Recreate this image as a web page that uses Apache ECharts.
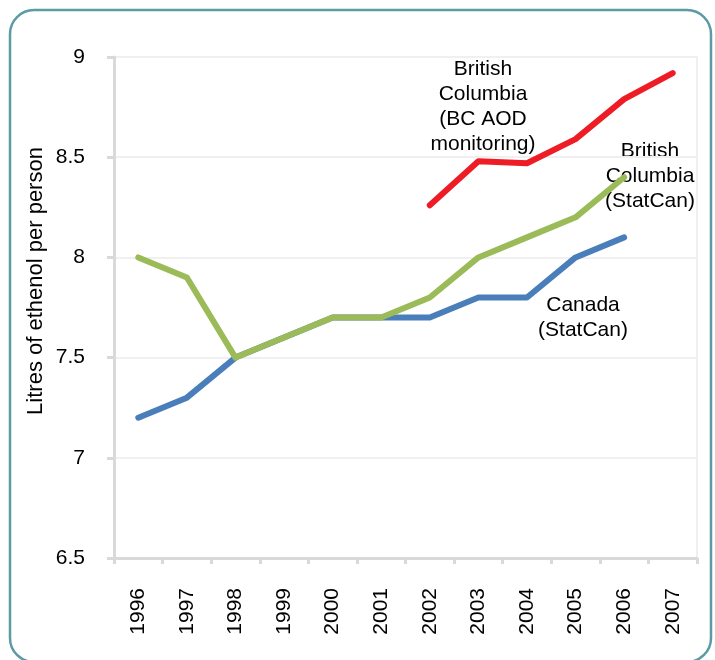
<!DOCTYPE html>
<html><head><meta charset="utf-8">
<script src="https://cdn.jsdelivr.net/npm/echarts@6/dist/echarts.min.js"></script>
<style>html,body{margin:0;padding:0;background:#fff}#c{width:715px;height:660px}</style>
</head><body><div id="c"></div>
<script>
const years = ['1996','1997','1998','1999','2000','2001','2002','2003','2004','2005','2006','2007'];
const canada = [7.2,7.3,7.5,7.6,7.7,7.7,7.7,7.8,7.8,8.0,8.1,null];
const bcStatCan = [8.0,7.9,7.5,7.6,7.7,7.7,7.8,8.0,8.1,8.2,8.4,null];
const bcAOD = [null,null,null,null,null,null,8.26,8.48,8.47,8.59,8.79,8.92];
const yTicks = {min:6.5,max:9,interval:0.5};
const font = 'Liberation Sans, Arial, sans-serif';
const chart = echarts.init(document.getElementById('c'));
chart.setOption({
  animation:false,
  grid:{left:114,top:57,right:18,bottom:102,show:true,borderColor:'#EFEFEF',borderWidth:2},
  xAxis:{type:'category',data:years,boundaryGap:true,
    axisLine:{lineStyle:{color:'#D9D9D9',width:3}},
    axisTick:{show:true,length:6,lineStyle:{color:'#D9D9D9',width:3}},
    axisLabel:{rotate:90,color:'#000',fontSize:21,fontFamily:font,margin:30}},
  yAxis:{type:'value',min:yTicks.min,max:yTicks.max,interval:yTicks.interval,
    axisLine:{show:true,lineStyle:{color:'#D9D9D9',width:3}},
    axisTick:{show:true,length:7,lineStyle:{color:'#D9D9D9',width:3}},
    splitLine:{lineStyle:{color:'#F0F0F0',width:2}},
    axisLabel:{color:'#000',fontSize:21,fontFamily:font,margin:29,
      formatter:v=>String(v)}},
  series:[
    {name:'Canada (StatCan)',type:'line',data:canada,symbol:'none',lineStyle:{color:'#4A7EBB',width:6,cap:'round',join:'round'},z:2},
    {name:'British Columbia (StatCan)',type:'line',data:bcStatCan,symbol:'none',lineStyle:{color:'#9BBB59',width:6,cap:'round',join:'round'},z:3},
    {name:'British Columbia (BC AOD monitoring)',type:'line',data:bcAOD,symbol:'none',lineStyle:{color:'#EE1C25',width:6,cap:'round',join:'round'},z:4}
  ],
  graphic:[
    {type:'rect',shape:{x:10,y:10,width:701,height:652,r:24},style:{fill:'none',stroke:'#5B9BA5',lineWidth:2.5},z:-1},
    {type:'text',x:36,y:281,rotation:Math.PI/2,style:{text:'Litres of ethenol per person',textAlign:'center',textVerticalAlign:'middle',fontSize:22,fontFamily:font,fill:'#000'}},
    {type:'text',style:{text:'British\nColumbia\n(BC AOD\nmonitoring)',x:483,y:57,textAlign:'center',fontSize:21,lineHeight:25,fontFamily:font,fill:'#000'}},
    {type:'text',style:{text:'British\nColumbia\n(StatCan)',x:650,y:139,textAlign:'center',fontSize:21,lineHeight:25,fontFamily:font,fill:'#000'}},
    {type:'text',style:{text:'Canada\n(StatCan)',x:583,y:293,textAlign:'center',fontSize:21,lineHeight:25,fontFamily:font,fill:'#000'}}
  ]
});
</script></body></html>
